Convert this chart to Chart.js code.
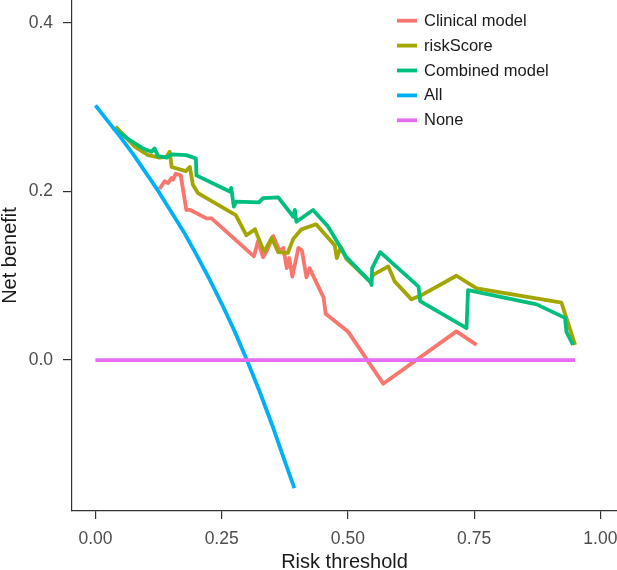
<!DOCTYPE html>
<html>
<head>
<meta charset="utf-8">
<script src="https://cdn.jsdelivr.net/npm/chart.js@4.4.1/dist/chart.umd.min.js"></script>
<style>
  html, body { margin: 0; padding: 0; background: #fff; }
  #wrap { width: 617px; height: 570px; }
</style>
</head>
<body>
<div id="wrap"><canvas id="dca" width="617" height="570"></canvas></div>
<script>
// series labels and colours (ggplot hue palette)
const seriesNames = ['Clinical model', 'riskScore', 'Combined model', 'All', 'None'];
const seriesColors = ['#F8766D', '#A3A500', '#00BF7D', '#00B0F6', '#E76BF3'];

// thresholds / net benefit
const clinicalT = [0.127, 0.137, 0.144, 0.151, 0.154, 0.159, 0.169, 0.180, 0.188, 0.220, 0.230, 0.314, 0.322, 0.332, 0.339, 0.352, 0.365, 0.372, 0.379, 0.384, 0.390, 0.402, 0.409, 0.418, 0.424, 0.452, 0.456, 0.500, 0.570, 0.715, 0.755];
const clinicalNB = [0.203, 0.212, 0.210, 0.216, 0.214, 0.221, 0.219, 0.178, 0.178, 0.168, 0.168, 0.123, 0.141, 0.122, 0.129, 0.147, 0.129, 0.133, 0.109, 0.121, 0.099, 0.133, 0.130, 0.098, 0.109, 0.074, 0.055, 0.034, -0.028, 0.034, 0.018];

const riskT = [0.040, 0.078, 0.104, 0.127, 0.141, 0.147, 0.151, 0.179, 0.187, 0.193, 0.203, 0.278, 0.299, 0.316, 0.330, 0.335, 0.349, 0.362, 0.381, 0.392, 0.408, 0.437, 0.474, 0.478, 0.486, 0.497, 0.544, 0.550, 0.580, 0.593, 0.626, 0.646, 0.715, 0.755, 0.923, 0.950];
const riskNB = [0.277, 0.253, 0.243, 0.240, 0.241, 0.247, 0.229, 0.224, 0.229, 0.208, 0.198, 0.172, 0.148, 0.155, 0.134, 0.129, 0.145, 0.128, 0.127, 0.144, 0.155, 0.161, 0.136, 0.121, 0.134, 0.120, 0.093, 0.101, 0.111, 0.093, 0.072, 0.077, 0.100, 0.085, 0.068, 0.018];

const combinedT = [0.035, 0.068, 0.094, 0.111, 0.117, 0.124, 0.141, 0.151, 0.180, 0.199, 0.200, 0.266, 0.269, 0.274, 0.279, 0.324, 0.332, 0.362, 0.392, 0.395, 0.398, 0.431, 0.461, 0.497, 0.544, 0.547, 0.548, 0.564, 0.640, 0.643, 0.735, 0.738, 0.874, 0.930, 0.933, 0.946];
const combinedNB = [0.275, 0.261, 0.251, 0.247, 0.251, 0.242, 0.240, 0.244, 0.243, 0.239, 0.219, 0.200, 0.204, 0.182, 0.188, 0.187, 0.192, 0.193, 0.170, 0.178, 0.164, 0.178, 0.158, 0.122, 0.093, 0.089, 0.109, 0.128, 0.087, 0.070, 0.038, 0.083, 0.066, 0.050, 0.033, 0.018];

const allT = [0, 0.025, 0.05, 0.075, 0.10, 0.125, 0.15, 0.175, 0.20, 0.225, 0.25, 0.275, 0.30, 0.325, 0.35, 0.375, 0.394];
const allNB = [0.302, 0.283, 0.264, 0.244, 0.222, 0.200, 0.176, 0.152, 0.125, 0.097, 0.067, 0.035, 0.000, -0.037, -0.077, -0.120, -0.152];

const noneT = [0, 0.95];
const noneNB = [0, 0];

const xTicks = [0, 0.25, 0.5, 0.75, 1.0];
const yTicks = [0, 0.2, 0.4];

const FONT = "'Liberation Sans', Arial, Helvetica, sans-serif";

const toPoints = (xs, ys) => xs.map((x, i) => ({ x: x, y: ys[i] }));
const seriesData = [
  toPoints(clinicalT, clinicalNB),
  toPoints(riskT, riskNB),
  toPoints(combinedT, combinedNB),
  toPoints(allT, allNB),
  toPoints(noneT, noneNB)
];

// legend drawn inside the panel, top right
const insideLegend = {
  id: 'insideLegend',
  afterDraw(chart) {
    const ctx = chart.ctx;
    ctx.save();
    chart.data.datasets.forEach((ds, i) => {
      const y = 20.7 + i * 24.9;
      ctx.strokeStyle = ds.borderColor;
      ctx.lineWidth = 3.8;
      ctx.beginPath();
      ctx.moveTo(397, y);
      ctx.lineTo(417, y);
      ctx.stroke();
      ctx.fillStyle = '#1a1a1a';
      ctx.font = '16.5px ' + FONT;
      ctx.textBaseline = 'middle';
      ctx.textAlign = 'left';
      ctx.fillText(ds.label, 424, y + 0.5);
    });
    ctx.restore();
  }
};

new Chart(document.getElementById('dca'), {
  type: 'line',
  data: {
    datasets: seriesNames.map((name, i) => ({
      label: name,
      data: seriesData[i],
      borderColor: seriesColors[i],
      backgroundColor: seriesColors[i],
      borderWidth: 3.8,
      borderJoinStyle: 'round',
      borderCapStyle: 'butt',
      pointRadius: 0,
      tension: 0,
      fill: false,
      order: seriesNames.length - i // later series on top, like ggplot
    }))
  },
  options: {
    responsive: false,
    animation: false,
    layout: { padding: 0 },
    plugins: {
      legend: { display: false },
      tooltip: { enabled: false }
    },
    scales: {
      x: {
        type: 'linear',
        min: -0.0464,
        max: 1.033,
        afterBuildTicks: s => { s.ticks = xTicks.map(v => ({ value: v })); },
        afterFit: s => { s.height = 59; s.paddingLeft = 0; s.paddingRight = 0; },
        grid: { drawOnChartArea: false, drawTicks: true, tickLength: 8, color: '#333', lineWidth: 1.2 },
        border: { display: true, color: '#333', width: 1.2 },
        ticks: {
          padding: 10,
          color: '#4D4D4D',
          font: { family: FONT, size: 17.5 },
          maxRotation: 0,
          callback: v => v.toFixed(2)
        },
        title: {
          display: true,
          text: 'Risk threshold',
          color: '#1a1a1a',
          font: { family: FONT, size: 20 },
          padding: { top: 0, bottom: -4 }
        }
      },
      y: {
        type: 'linear',
        min: -0.179,
        max: 0.427,
        afterBuildTicks: s => { s.ticks = yTicks.map(v => ({ value: v })); },
        afterFit: s => { s.width = 72; s.paddingTop = 0; s.paddingBottom = 0; },
        grid: { drawOnChartArea: false, drawTicks: true, tickLength: 9, color: '#333', lineWidth: 1.2 },
        border: { display: true, color: '#333', width: 1.2 },
        ticks: {
          padding: 10,
          color: '#4D4D4D',
          font: { family: FONT, size: 17.5 },
          callback: v => v.toFixed(1)
        },
        title: {
          display: true,
          text: 'Net benefit',
          color: '#1a1a1a',
          font: { family: FONT, size: 20 },
          padding: { top: -2, bottom: 0 }
        }
      }
    }
  },
  plugins: [insideLegend]
});
</script>
</body>
</html>
